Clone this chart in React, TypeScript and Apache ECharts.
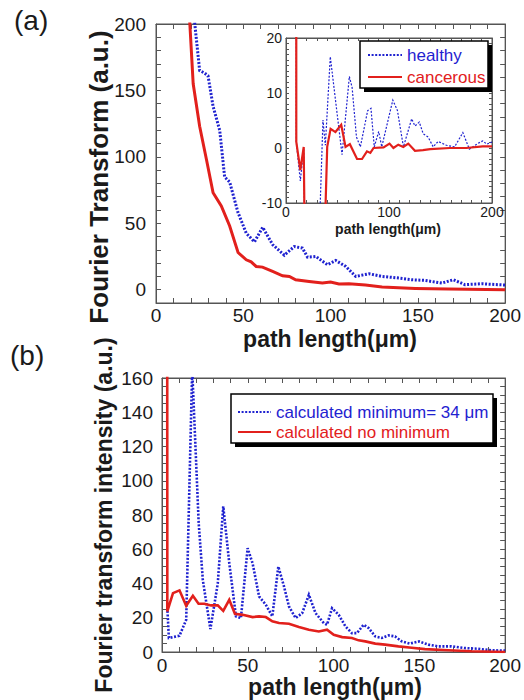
import React, { useEffect, useRef } from "react";
import * as echarts from "echarts";

// ---------- data ----------
// Panel (a), main plot: Fourier transform vs path length (um)
const aHealthy: [number, number][] = [
  [20, 228], [25, 165], [27.9, 163], [29.8, 161], [32.7, 138], [36.5, 120], [39.3, 85],
  [42.2, 81], [47, 58], [51.7, 42.5], [56.4, 36], [61.1, 47], [66.8, 34], [73.5, 26],
  [79.2, 32.5], [83.9, 31.3], [86.8, 24.5], [91.6, 25], [98.2, 18.8], [103, 22],
  [108.7, 17.5], [114.4, 10], [122, 12], [129.5, 10], [139, 8.8], [146.6, 7.5], [154, 7],
  [163.7, 5], [170.4, 7.5], [177, 3.8], [186.5, 4.5], [200, 3.5],
];
const aCancerous: [number, number][] = [
  [18, 233], [21.3, 155], [25, 123], [28.9, 98], [32.7, 73], [37.4, 63], [42.2, 48],
  [47, 28], [51.7, 22.5], [54.5, 21], [57.4, 17.5], [61, 17], [66.8, 13.8], [72.5, 10.5],
  [76.4, 10], [80, 7.5], [87.7, 6.2], [95.3, 5], [100, 5.8], [104.8, 4.3], [110.5, 4.5],
  [120, 3.5], [129.5, 2], [148.5, 1], [167.5, 0.5], [200, 0],
];
// Panel (a), inset
const insetHealthy: [number, number][] = [
  [9.9, 80], [10, 1.1], [13.9, -6], [17.2, 0], [19.5, -40], [28, -40], [35.9, 5.1],
  [38.2, 0.5], [43, 16.6], [54.4, -1.2], [61.5, 13], [64.2, 11], [68.4, 2], [72.2, 0.2],
  [79.3, 6.8], [82.5, 7.2], [85.7, 0.2], [90, 3], [93, 0.2], [103.7, 8.7], [108.2, 6.8],
  [114, 0.2], [122, 5.3], [125.2, 4], [129.4, 4.7], [133.2, 2.6], [138, 2], [142.9, 0.2],
  [147.7, 1.2], [155.7, 0.5], [163.7, 0.2], [171.7, 2.8], [178, -0.2], [186, 0.8],
  [191, 1.3], [195, 0.7], [200, 1.1],
];
const insetCancerous: [number, number][] = [
  [9.9, 80], [10, 1.1], [13.9, -4], [17.2, 0.2], [19.5, -40], [31, -60], [40, 0.2],
  [43.3, 3.5], [48, 2.9], [53.6, 4.2], [57.8, 0.2], [62, 0.7], [69, -2], [73.8, -2],
  [78.6, -0.6], [81.9, -0.9], [85, 0], [94.7, 0.1], [100.5, 0.8], [104.3, 0], [109, 0.6],
  [113.9, 0.2], [118.7, 0.8], [125.2, -0.5], [133, -0.4], [140, -0.2], [159, 0], [175, 0],
  [191, 0.3], [200, 0.3],
];
// Panel (b)
const bMinimum: [number, number][] = [
  [3.2, 24], [4, 8.2], [10.2, 9.5], [14.1, 18.8], [17.6, 165], [21.4, 75], [23.8, 42],
  [28.2, 13.4], [32.5, 40], [35.7, 85], [39.2, 52], [43.1, 20.8], [46, 19.8], [49.9, 60.6],
  [52.8, 51.8], [56.6, 32.4], [60.5, 27.6], [64.3, 20.8], [67.8, 49.9], [71.1, 38.3],
  [74, 26.6], [77.9, 19.8], [81.7, 22.7], [85.6, 33.4], [89.5, 22.7], [94.3, 16.9],
  [96.2, 15.9], [99.1, 25.6], [103, 21.7], [106.9, 15], [110.7, 11], [113.6, 11],
  [117.5, 15.9], [120.4, 14], [124.3, 9.1], [128.1, 8.2], [132, 9.7], [135.8, 9.1],
  [139.7, 6.2], [144.5, 4.9], [149.8, 6.2], [155.2, 4.3], [161, 3.3], [168.7, 3.3],
  [176.4, 2.3], [184.2, 1.9], [191.9, 1], [200, 0.8],
];
const bNoMinimum: [number, number][] = [
  [3, 300], [3.1, 23.7], [6.4, 34.4], [10.2, 36], [14.1, 27], [18, 32.8], [21.3, 28.2],
  [24.7, 28.2], [28.6, 27.2], [32.5, 27.2], [35.7, 24], [39.2, 30.5], [42.5, 22.3],
  [47, 21.7], [52.8, 20.4], [56.6, 20.8], [60.5, 20.4], [64.3, 17.9], [68.2, 16.9],
  [74, 16.5], [79.8, 14.6], [85.6, 13], [91.4, 12], [96.2, 13], [100.1, 10.1], [105, 8.7],
  [110.7, 8.2], [114.6, 6.8], [118.5, 6.2], [124.3, 4.9], [130, 4.3], [137.8, 3.3],
  [145.5, 2.5], [153.2, 1.7], [166.8, 1], [180.3, 0.4], [200, 0],
];

const seriesNames = {
  healthy: "healthy",
  cancerous: "cancerous",
  minimum: "calculated minimum= 34 \u03bcm",
  noMinimum: "calculated no minimum",
};
const xTitle = "path length(\u03bcm)";
const aYTitle = "Fourier Transform (a.u.)";
const bYTitle = "Fourier transform intensity (a.u.)";

// ---------- styles ----------
const FONT = '"Liberation Sans", Arial, Helvetica, sans-serif';
const BLUE = "#1f22d0";
const RED = "#e2201c";
const FRAME = "#555555";
const TXT = "#1a1a1a";

type AxCfg = {
  grid: number;
  xmin: number; xmax: number; xint: number; xlab: number;
  ymin: number; ymax: number; yint: number; ylab: number;
  fs: number; tick: number; xMargin: number; yMargin: number;
};

function makeAxes(c: AxCfg) {
  const fmt = (step: number) => (v: number) =>
    Math.abs(Math.round(v / step) * step - v) < 1e-6 ? String(Math.round(v)) : "";
  const common = {
    gridIndex: c.grid,
    type: "value" as const,
    splitLine: { show: false },
  };
  const lab = (show: boolean, step: number, margin: number) => ({
    show,
    interval: 0,
    margin,
    fontSize: c.fs,
    fontFamily: FONT,
    color: TXT,
    showMinLabel: true,
    showMaxLabel: true,
    formatter: fmt(step),
  });
  const line = { show: true, onZero: false, lineStyle: { color: FRAME, width: 1 } };
  const tick = { show: true, inside: true, length: c.tick, lineStyle: { color: FRAME, width: 1 } };
  const xs = [
    { ...common, position: "bottom", min: c.xmin, max: c.xmax, interval: c.xint, axisLine: line, axisTick: tick, axisLabel: lab(true, c.xlab, c.xMargin) },
    { ...common, position: "top", min: c.xmin, max: c.xmax, interval: c.xint, axisLine: line, axisTick: tick, axisLabel: { show: false } },
  ];
  const ys = [
    { ...common, position: "left", min: c.ymin, max: c.ymax, interval: c.yint, axisLine: line, axisTick: tick, axisLabel: lab(true, c.ylab, c.yMargin) },
    { ...common, position: "right", min: c.ymin, max: c.ymax, interval: c.yint, axisLine: line, axisTick: tick, axisLabel: { show: false } },
  ];
  return { xs, ys };
}

export default function App() {
  const ref = useRef<HTMLDivElement>(null);

  useEffect(() => {
    if (!ref.current) return;
    const chart = echarts.init(ref.current, null, { renderer: "svg" });

    const A = makeAxes({ grid: 0, xmin: 0, xmax: 200, xint: 10, xlab: 50, ymin: -10, ymax: 200, yint: 10, ylab: 50, fs: 19, tick: 5, xMargin: 3, yMargin: 10 });
    const I = makeAxes({ grid: 1, xmin: 0, xmax: 200, xint: 10, xlab: 100, ymin: -10, ymax: 20, yint: 1, ylab: 10, fs: 14, tick: 3, xMargin: 2, yMargin: 4 });
    const B = makeAxes({ grid: 2, xmin: 0, xmax: 200, xint: 10, xlab: 50, ymin: 0, ymax: 160, yint: 5, ylab: 20, fs: 19, tick: 5, xMargin: 4, yMargin: 9 });

    const lineSeries = (name: string, data: [number, number][], axis: number, color: string, width: number, dotted: boolean) => ({
      type: "line",
      name,
      data,
      xAxisIndex: axis,
      yAxisIndex: axis,
      symbol: "none",
      showSymbol: false,
      clip: true,
      lineStyle: { color, width, type: dotted ? [2, 1.6] : "solid", cap: "butt", join: "miter" },
      itemStyle: { color },
      z: 3,
    });

    const legendCommon = {
      orient: "vertical",
      selectedMode: false,
      padding: 0,
      itemHeight: 14,
      itemStyle: { opacity: 0, borderWidth: 0 },
      textStyle: { fontSize: 17, fontFamily: FONT, lineHeight: 17 },
      z: 12,
    };

    const text = (t: string, x: number, y: number, size: number, bold: boolean, rot = 0) => ({
      type: "text",
      x,
      y,
      rotation: rot,
      z: 20,
      style: {
        text: t,
        fontSize: size,
        fontWeight: bold ? "bold" : "normal",
        fontFamily: FONT,
        fill: TXT,
        align: "center",
        verticalAlign: "middle",
      },
    });

    const option = {
      animation: false,
      backgroundColor: "#ffffff",
      grid: [
        { left: 156, top: 24, width: 351, height: 279, show: true, borderColor: FRAME, borderWidth: 1, containLabel: false },
        { left: 286, top: 38, width: 206, height: 165, show: true, borderColor: FRAME, borderWidth: 1, backgroundColor: "#ffffff", containLabel: false },
        { left: 162, top: 378, width: 345, height: 274, show: true, borderColor: FRAME, borderWidth: 1, containLabel: false },
      ],
      xAxis: [...A.xs, ...I.xs, ...B.xs],
      yAxis: [...A.ys, ...I.ys, ...B.ys],
      legend: [
        {
          ...legendCommon,
          left: 367,
          top: 46.5,
          itemWidth: 34,
          itemGap: 5,
          data: [
            { name: seriesNames.healthy, textStyle: { color: BLUE } },
            { name: seriesNames.cancerous, textStyle: { color: RED } },
          ],
        },
        {
          ...legendCommon,
          left: 237,
          top: 403.5,
          itemWidth: 33,
          itemGap: 3,
          data: [
            { name: seriesNames.minimum, textStyle: { color: BLUE } },
            { name: seriesNames.noMinimum, textStyle: { color: RED } },
          ],
        },
      ],
      series: [
        lineSeries(seriesNames.healthy + " ", aHealthy, 0, BLUE, 3, true),
        lineSeries(seriesNames.cancerous + " ", aCancerous, 0, RED, 3, false),
        lineSeries(seriesNames.healthy, insetHealthy, 2, BLUE, 1.2, true),
        lineSeries(seriesNames.cancerous, insetCancerous, 2, RED, 2.2, false),
        lineSeries(seriesNames.minimum, bMinimum, 4, BLUE, 2.6, true),
        lineSeries(seriesNames.noMinimum, bNoMinimum, 4, RED, 2.6, false),
      ],
      graphic: [
        // legend boxes (shadow + box)
        { type: "rect", z: 10, shape: { x: 364, y: 45, width: 128, height: 47 }, style: { fill: "#000" } },
        { type: "rect", z: 10, shape: { x: 360, y: 41, width: 128, height: 47 }, style: { fill: "#fff", stroke: "#000", lineWidth: 1.5 } },
        { type: "rect", z: 10, shape: { x: 235, y: 398, width: 262, height: 49 }, style: { fill: "#000" } },
        { type: "rect", z: 10, shape: { x: 231, y: 394, width: 262, height: 49 }, style: { fill: "#fff", stroke: "#000", lineWidth: 1.5 } },
        // panel labels
        { type: "text", x: 14, y: 20, z: 20, style: { text: "(a)", fontSize: 28, fontFamily: FONT, fill: TXT, align: "left", verticalAlign: "middle" } },
        { type: "text", x: 10, y: 355, z: 20, style: { text: "(b)", fontSize: 28, fontFamily: FONT, fill: TXT, align: "left", verticalAlign: "middle" } },
        // axis titles
        text(xTitle, 330, 339, 23, true),
        text(aYTitle, 99, 177, 26, true, Math.PI / 2),
        text(xTitle, 388, 229, 14, true),
        text(xTitle, 335, 687, 23, true),
        text(bYTitle, 104, 515, 23, true, Math.PI / 2),
      ],
    };

    chart.setOption(option as any);
    return () => chart.dispose();
  }, []);

  return (
    <div
      ref={ref}
      style={{ position: "absolute", left: 0, top: 0, width: 524, height: 700, background: "#fff" }}
    />
  );
}
